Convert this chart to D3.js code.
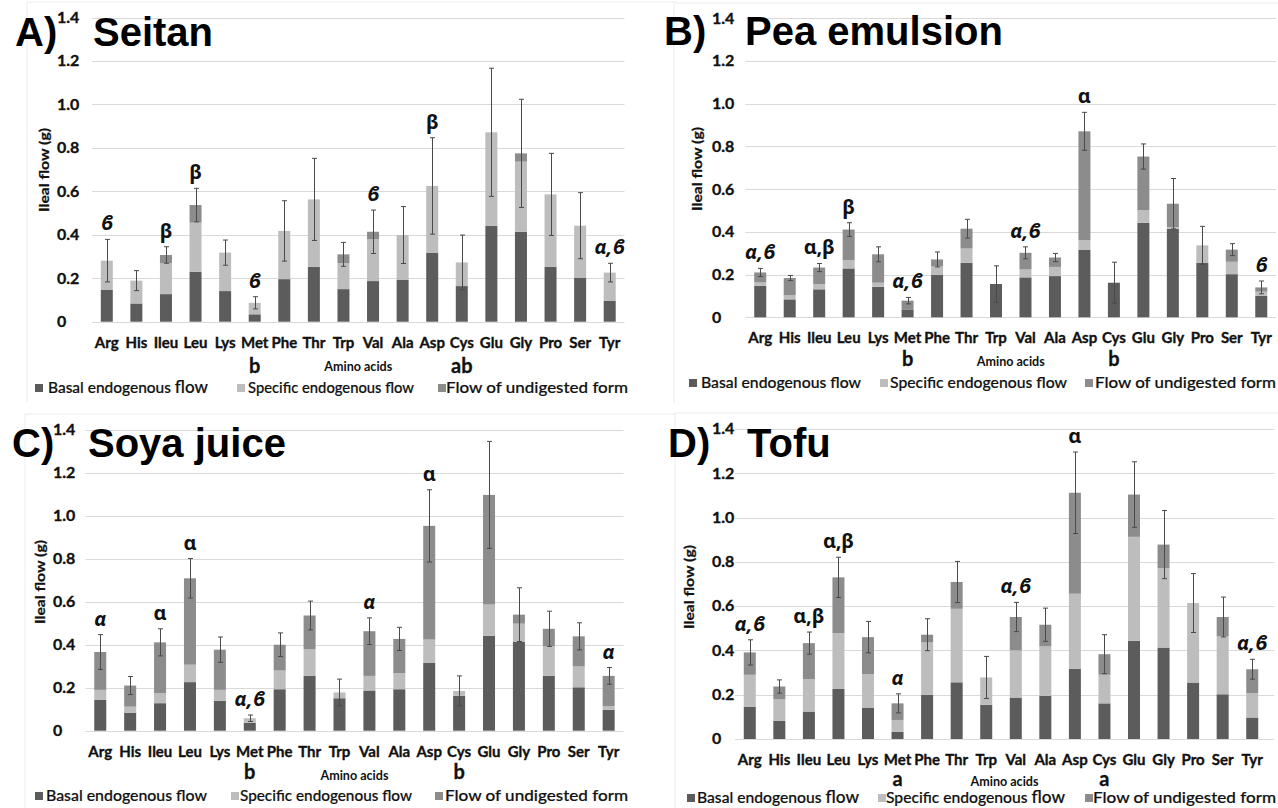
<!DOCTYPE html>
<html><head><meta charset="utf-8">
<script src="https://cdn.jsdelivr.net/npm/d3@7"></script>
<style>body{margin:0;background:#fff}svg{display:block}</style>
</head><body>
<svg id="chart" width="1278" height="808"></svg>
<script>
// ---------------- DATA ----------------
const categories = ["Arg","His","Ileu","Leu","Lys","Met","Phe","Thr","Trp","Val","Ala","Asp","Cys","Glu","Gly","Pro","Ser","Tyr"];
const yTickValues = [0, 0.2, 0.4, 0.6, 0.8, 1.0, 1.2, 1.4];
const yTickLabels = ["0", "0.2", "0.4", "0.6", "0.8", "1.0", "1.2", "1.4"];
const seriesNames = ["Basal endogenous flow", "Specific endogenous flow", "Flow of undigested form"];
const xAxisTitle = "Amino acids";
const yAxisTitle = "Ileal flow (g)";

// A) Seitan
const seitanBasal      = [0.146,0.084,0.127,0.230,0.141,0.034,0.196,0.253,0.150,0.187,0.192,0.318,0.164,0.441,0.414,0.253,0.203,0.097];
const seitanSpecific   = [0.135,0.105,0.142,0.226,0.177,0.053,0.222,0.310,0.119,0.192,0.207,0.307,0.109,0.431,0.323,0.333,0.239,0.129];
const seitanUndigested = [0,0,0.038,0.081,0,0,0,0,0.041,0.035,0,0,0,0,0.038,0,0,0];
const seitanError      = [0.098,0.046,0.038,0.077,0.058,0.028,0.139,0.189,0.055,0.100,0.131,0.222,0.126,0.295,0.249,0.189,0.152,0.043];
const seitanMarks   = [["Arg","ϐ"],["Ileu","β"],["Leu","β"],["Met","ϐ"],["Val","ϐ"],["Asp","β"],["Tyr","α,ϐ"]];
const seitanLetters = [["Met","b"],["Cys","ab"]];

// B) Pea emulsion
const peaBasal      = [0.148,0.084,0.131,0.229,0.143,0.037,0.198,0.255,0.156,0.187,0.193,0.317,0.162,0.442,0.414,0.255,0.202,0.100];
const peaSpecific   = [0.015,0.019,0.025,0.038,0.019,0,0.040,0.067,0,0.037,0.043,0.044,0,0.059,0.009,0.082,0.058,0.020];
const peaUndigested = [0.047,0.081,0.077,0.144,0.133,0.041,0.033,0.093,0,0.078,0.044,0.510,0,0.252,0.109,0,0.057,0.020];
const peaError      = [0.019,0.012,0.019,0.032,0.035,0.015,0.035,0.044,0.085,0.028,0.019,0.089,0.096,0.059,0.118,0.089,0.028,0.030];
const peaMarks   = [["Arg","α,ϐ"],["Ileu","α,β"],["Leu","β"],["Met","α,ϐ"],["Val","α,ϐ"],["Asp","α"],["Tyr","ϐ"]];
const peaLetters = [["Met","b"],["Cys","b"]];

// C) Soya juice
const soyaBasal      = [0.143,0.084,0.128,0.226,0.139,0.037,0.193,0.255,0.151,0.187,0.193,0.315,0.162,0.442,0.413,0.255,0.202,0.097];
const soyaSpecific   = [0.047,0.028,0.046,0.081,0.051,0.021,0.087,0.125,0.027,0.068,0.075,0.109,0.023,0.145,0.085,0.138,0.097,0.018];
const soyaUndigested = [0.176,0.098,0.237,0.402,0.187,0,0.120,0.156,0,0.208,0.159,0.529,0,0.510,0.042,0.081,0.140,0.140];
const soyaError      = [0.081,0.042,0.063,0.092,0.059,0.015,0.055,0.067,0.062,0.062,0.054,0.168,0.070,0.249,0.125,0.082,0.063,0.039];
const soyaMarks   = [["Arg","α"],["Ileu","α"],["Leu","α"],["Met","α,ϐ"],["Val","α"],["Asp","α"],["Tyr","α"]];
const soyaLetters = [["Met","b"],["Cys","b"]];

// D) Tofu
const tofuBasal      = [0.146,0.083,0.124,0.226,0.142,0.033,0.199,0.256,0.154,0.187,0.195,0.317,0.161,0.443,0.413,0.255,0.202,0.097];
const tofuSpecific   = [0.144,0.096,0.146,0.252,0.151,0.053,0.237,0.332,0.124,0.213,0.223,0.339,0.129,0.470,0.359,0.359,0.261,0.110];
const tofuUndigested = [0.101,0.058,0.163,0.252,0.167,0.075,0.035,0.121,0,0.151,0.098,0.456,0.093,0.191,0.106,0,0.088,0.108];
const tofuError      = [0.057,0.030,0.050,0.091,0.071,0.043,0.072,0.093,0.095,0.066,0.075,0.184,0.088,0.148,0.154,0.133,0.090,0.045];
const tofuMarks   = [["Arg","α,ϐ"],["Ileu","α,β"],["Leu","α,β"],["Met","α"],["Val","α,ϐ"],["Asp","α"],["Tyr","α,ϐ"]];
const tofuLetters = [["Met","a"],["Cys","a"]];

// ---------------- STYLE / LAYOUT ----------------
const colors = ["#5c5c5c", "#bdbdbd", "#8c8c8c"];
const italicCats = new Set(["Arg","Met","Val","Tyr"]);
const labelFont = "Lato, 'Open Sans', sans-serif";
const greekFont = "'Noto Sans', 'DejaVu Sans', sans-serif";
const titleFont = "'Liberation Sans', Arial, sans-serif";

const panels = [
  {letter:"A)", title:"Seitan", basal:seitanBasal, specific:seitanSpecific, undig:seitanUndigested, err:seitanError, marks:seitanMarks, letters:seitanLetters,
   L:{letterX:15, titleX:93, titleY:46, x0:92, x1:624.5, gx1:624.5, y0:321.7, yTop:17.6, tickX:57, yTitleX:44, yTitleY:170,
      xLabY:348, subY:373, axTitleY:371, legY:388, leg:[[35,48,160],[237,248,166],[438,446,182]], bigFlow:[0], border:[27,2]}},
  {letter:"B)", title:"Pea emulsion", basal:peaBasal, specific:peaSpecific, undig:peaUndigested, err:peaError, marks:peaMarks, letters:peaLetters,
   L:{letterX:664, titleX:745, titleY:45, x0:745.5, x1:1276, gx1:1276, y0:317.3, yTop:18.4, tickX:712, yTitleX:697, yTitleY:169,
      xLabY:343, subY:366, axTitleY:366, legY:383, leg:[[689,701,160],[880,890,177],[1085,1095,181]], bigFlow:[], border:[674,3]}},
  {letter:"C)", title:"Soya juice", basal:soyaBasal, specific:soyaSpecific, undig:soyaUndigested, err:soyaError, marks:soyaMarks, letters:soyaLetters,
   L:{letterX:12, titleX:88, titleY:457, x0:85.3, x1:623.6, gx1:623.6, y0:730.7, yTop:429.8, tickX:53, yTitleX:40, yTitleY:582,
      xLabY:757, subY:779, axTitleY:780, legY:796, leg:[[35,46,161],[231,240,172],[435,445,183]], bigFlow:[], border:[25,414]}},
  {letter:"D)", title:"Tofu", basal:tofuBasal, specific:tofuSpecific, undig:tofuUndigested, err:tofuError, marks:tofuMarks, letters:tofuLetters,
   L:{letterX:668, titleX:747, titleY:457, x0:735, x1:1267, gx1:1274, y0:739, yTop:429, tickX:712, yTitleX:689, yTitleY:587,
      xLabY:765, subY:786, axTitleY:786, legY:798, leg:[[687,697,162],[878,886,179],[1085,1093,183]], bigFlow:[0,1], border:[675,413]}}
];

const svg = d3.select("#chart");
svg.append("rect").attr("width",1278).attr("height",808).attr("fill","#fff");

panels.forEach(p => {
  const L = p.L;
  const g = svg.append("g");
  g.append("path").attr("d", `M${L.border[0]},${L.border[1]+400}V${L.border[1]}H${L.border[0]+650}`)
    .attr("fill","none").attr("stroke","#ececec").attr("stroke-width",1);

  const x = d3.scaleBand().domain(categories).range([L.x0, L.x1]);
  const y = d3.scaleLinear().domain([0, 1.4]).range([L.y0, L.yTop]);

  // gridlines
  g.append("g").selectAll("line").data(yTickValues).join("line")
    .attr("x1", L.x0).attr("x2", L.gx1)
    .attr("y1", d => Math.round(y(d)) + 0.5).attr("y2", d => Math.round(y(d)) + 0.5)
    .attr("stroke", "#d9d9d9").attr("stroke-width", 1);

  // y axis labels
  const ya = g.append("g").attr("transform", `translate(${L.tickX},0)`)
    .call(d3.axisLeft(y).tickValues(yTickValues).tickFormat((d,i) => yTickLabels[i]).tickSize(0).tickPadding(0));
  ya.select(".domain").remove();
  ya.selectAll("text").attr("text-anchor","start").attr("x",0).attr("dy","0.3em")
    .attr("font-family", labelFont).attr("font-weight","bold").attr("font-size", 16).attr("fill","#111")
    .attr("stroke","#111").attr("stroke-width",0.35);

  // stacked bars
  const rows = categories.map((c,i) => ({cat:c, basal:p.basal[i], specific:p.specific[i], undig:p.undig[i], err:p.err[i]}));
  const stack = d3.stack().keys(["basal","specific","undig"])(rows);
  const bw = 12;
  stack.forEach((layer, k) => {
    g.append("g").selectAll("rect").data(layer).join("rect")
      .attr("x", d => x(d.data.cat) + x.bandwidth()/2 - bw/2)
      .attr("width", bw)
      .attr("y", d => y(d[1]))
      .attr("height", d => Math.max(0, y(d[0]) - y(d[1])))
      .attr("fill", colors[k]);
  });

  // error bars (symmetric around total)
  const eg = g.append("g").attr("stroke","#4a4a4a").attr("stroke-width",1);
  rows.forEach(r => {
    const tot = r.basal + r.specific + r.undig;
    const cx = Math.round(x(r.cat) + x.bandwidth()/2) + 0.5;
    const yt = y(tot + r.err), yb = y(tot - r.err);
    eg.append("line").attr("x1",cx).attr("x2",cx).attr("y1",yt).attr("y2",yb);
    eg.append("line").attr("x1",cx-2.5).attr("x2",cx+2.5).attr("y1",yt).attr("y2",yt);
    eg.append("line").attr("x1",cx-2.5).attr("x2",cx+2.5).attr("y1",yb).attr("y2",yb);
  });

  // significance marks above bars
  p.marks.forEach(([cat, txt]) => {
    const i = categories.indexOf(cat);
    const tot = p.basal[i] + p.specific[i] + p.undig[i] + p.err[i];
    g.append("text").attr("x", x(cat) + x.bandwidth()/2).attr("y", y(tot) - 9)
      .attr("text-anchor","middle").attr("font-family", greekFont).attr("font-weight","bold")
      .attr("font-style", italicCats.has(cat) ? "italic" : "normal")
      .attr("font-size", 20).attr("fill","#111").text(txt);
  });

  // x axis category labels
  const xa = g.append("g").attr("transform", `translate(0,${L.xLabY})`)
    .call(d3.axisBottom(x).tickSize(0).tickPadding(0));
  xa.select(".domain").remove();
  xa.selectAll("text").attr("y",0).attr("dy",null)
    .attr("font-family", labelFont).attr("font-weight","bold").attr("font-size", 15).attr("fill","#111")
    .attr("stroke","#111").attr("stroke-width",0.35);

  // letters under labels
  p.letters.forEach(([cat, txt]) => {
    g.append("text").attr("x", x(cat) + x.bandwidth()/2).attr("y", L.subY)
      .attr("text-anchor","middle").attr("font-family", labelFont).attr("font-weight","bold")
      .attr("font-size", 20).attr("fill","#111").attr("stroke","#111").attr("stroke-width",0.3).text(txt);
  });

  // axis titles
  g.append("text").attr("x", (L.x0 + L.gx1)/2).attr("y", L.axTitleY).attr("text-anchor","middle")
    .attr("font-family", labelFont).attr("font-weight","bold").attr("font-size", 14).attr("fill","#111")
    .attr("textLength", 68).attr("lengthAdjust","spacingAndGlyphs").text(xAxisTitle);
  g.append("text").attr("transform", `translate(${L.yTitleX},${L.yTitleY}) rotate(-90)`).attr("text-anchor","middle")
    .attr("dy","0.35em").attr("font-family", labelFont).attr("font-weight","bold").attr("font-size", 14).attr("fill","#111")
    .attr("stroke","#111").attr("stroke-width",0.25)
    .attr("textLength", 84).attr("lengthAdjust","spacingAndGlyphs").text(yAxisTitle);

  // legend
  seriesNames.forEach((name, k) => {
    const [sx, tx, tw] = L.leg[k];
    g.append("rect").attr("x", sx).attr("y", L.legY - 4).attr("width", 8).attr("height", 8).attr("fill", colors[k]);
    const t = g.append("text").attr("x", tx).attr("y", L.legY + 4.5)
      .attr("font-family", labelFont).attr("font-size", 15).attr("font-weight", 500).attr("fill","#111")
      .attr("stroke","#111").attr("stroke-width",0.2)
      .attr("textLength", tw).attr("lengthAdjust","spacingAndGlyphs");
    if (L.bigFlow.includes(k) && name.endsWith(" flow")) {
      t.append("tspan").text(name.slice(0, -4));
      t.append("tspan").attr("font-size", 16.5).text("flow");
    } else {
      t.text(name);
    }
  });

  // panel titles
  g.append("text").attr("x", L.letterX).attr("y", L.titleY).attr("font-family", titleFont).attr("font-weight","bold")
    .attr("font-size", 40).attr("fill","#000").text(p.letter);
  g.append("text").attr("x", L.titleX).attr("y", L.titleY).attr("font-family", titleFont).attr("font-weight","bold")
    .attr("font-size", 40).attr("fill","#000").text(p.title);
});
</script>
</body></html>
